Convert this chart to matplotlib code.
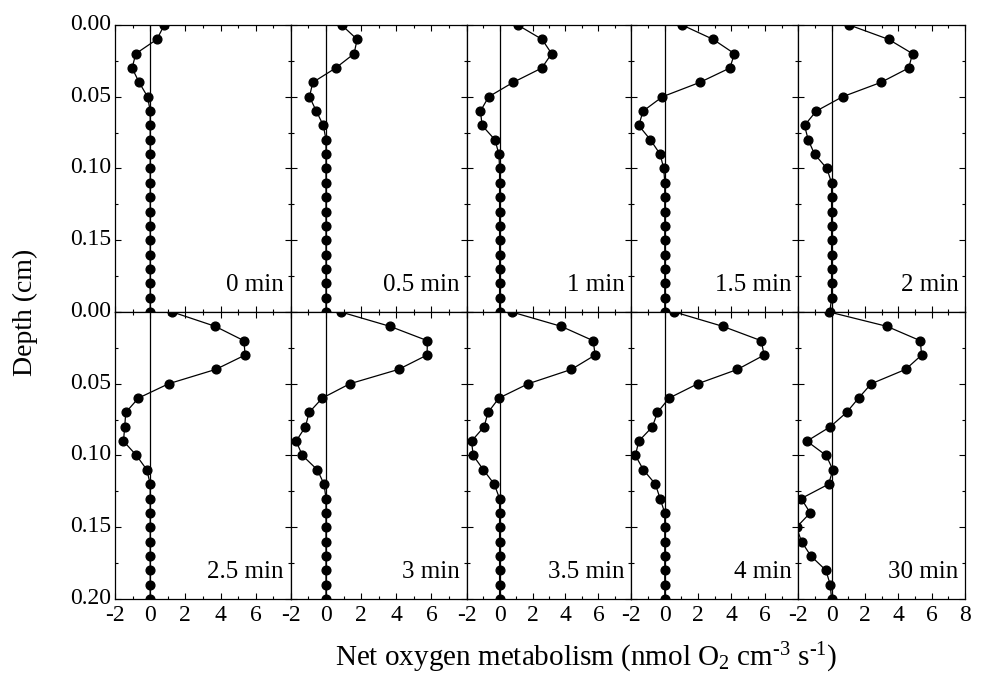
import numpy as np
import matplotlib
matplotlib.use('Agg')
import matplotlib.pyplot as plt
import matplotlib.transforms as mtransforms
from matplotlib.ticker import MultipleLocator

plt.rcParams['font.family'] = 'Liberation Serif'
plt.rcParams['mathtext.fontset'] = 'custom'
plt.rcParams['mathtext.rm'] = 'Liberation Serif'
plt.rcParams['mathtext.it'] = 'Liberation Serif:italic'
plt.rcParams['axes.unicode_minus'] = False

# Depth grid (cm)
depth = [0.00, 0.01, 0.02, 0.03, 0.04, 0.05, 0.06, 0.07, 0.08, 0.09, 0.10,
         0.11, 0.12, 0.13, 0.14, 0.15, 0.16, 0.17, 0.18, 0.19, 0.20]

# Net oxygen metabolism profiles (nmol O2 cm-3 s-1) after darkening
times = ['0 min', '0.5 min', '1 min', '1.5 min', '2 min',
         '2.5 min', '3 min', '3.5 min', '4 min', '30 min']

p_0 = [0.80, 0.38, -0.82, -1.03, -0.63, -0.15, 0, 0, 0, 0, 0,
       0, 0, 0, 0, 0, 0, 0, 0, 0, 0]
p_05 = [0.89, 1.77, 1.60, 0.55, -0.75, -0.94, -0.55, -0.15, 0, 0, 0,
        0, 0, 0, 0, 0, 0, 0, 0, 0, 0]
p_1 = [1.10, 2.58, 3.16, 2.56, 0.82, -0.66, -1.16, -1.06, -0.28, -0.04, 0,
       0, 0, 0, 0, 0, 0, 0, 0, 0, 0]
p_15 = [1.04, 2.90, 4.18, 3.90, 2.10, -0.14, -1.30, -1.56, -0.86, -0.28, -0.06,
        0, 0, 0, 0, 0, 0, 0, 0, 0, 0]
p_2 = [1.06, 3.42, 4.86, 4.62, 2.96, 0.66, -0.92, -1.62, -1.40, -1.02, -0.28,
       0, 0, 0, 0, 0, 0, 0, 0, 0, -0.10]
p_25 = [1.26, 3.70, 5.33, 5.40, 3.73, 1.05, -0.67, -1.39, -1.45, -1.52, -0.78,
        -0.19, 0, 0, 0, 0, 0, 0, 0, 0, 0]
p_3 = [0.85, 3.64, 5.77, 5.75, 4.13, 1.36, -0.21, -0.96, -1.17, -1.70, -1.34,
       -0.49, -0.11, 0, 0, 0, 0, 0, 0, 0, 0]
p_35 = [0.74, 3.74, 5.68, 5.80, 4.36, 1.74, -0.04, -0.70, -0.94, -1.70, -1.60,
        -0.98, -0.32, 0, 0, 0, 0, 0, 0, 0, 0]
p_4 = [0.58, 3.48, 5.78, 5.96, 4.36, 1.98, 0.26, -0.44, -0.74, -1.56, -1.76,
       -1.28, -0.56, -0.28, 0, 0, 0, 0, 0, 0, 0]
p_30 = [-0.14, 3.32, 5.32, 5.40, 4.44, 2.38, 1.62, 0.90, -0.08, -1.48, -0.32,
        0.08, -0.18, -1.82, -1.28, -2.10, -1.80, -1.24, -0.34, -0.08, 0]

profiles = [p_0, p_05, p_1, p_15, p_2, p_25, p_3, p_35, p_4, p_30]

fig, axes = plt.subplots(2, 5, figsize=(10.03, 6.83), dpi=100,
                         gridspec_kw={'width_ratios': [176, 176, 165, 167, 167],
                                      'wspace': 0, 'hspace': 0})
fig.subplots_adjust(left=0.1147, right=0.9621, top=0.9634, bottom=0.1230)

# nudge the depth labels up a little so they clear the bottom x labels
lift = mtransforms.ScaledTranslation(0, 3 / 100, fig.dpi_scale_trans)

for i, ax in enumerate(axes.flat):
    row, col = divmod(i, 5)
    ax.axvline(0, color='black', lw=0.9, zorder=1)
    ax.plot(profiles[i], depth, '-o', color='black', lw=0.9, ms=6.3, zorder=3)
    ax.set_xlim(-2, 8)
    ax.set_ylim(0.20, 0.00)

    ax.xaxis.set_major_locator(MultipleLocator(2))
    ax.xaxis.set_minor_locator(MultipleLocator(1))
    ax.yaxis.set_major_locator(MultipleLocator(0.05))
    ax.yaxis.set_minor_locator(MultipleLocator(0.025))
    ax.tick_params(which='both', direction='in', top=True, right=True,
                   labelsize=17, width=0.8)
    ax.tick_params(which='major', length=4)
    ax.tick_params(which='minor', length=2.5)
    ax.tick_params(axis='x', pad=4)
    ax.tick_params(axis='y', pad=3)

    # x tick labels only on the bottom row
    if row == 1:
        xl = ['-2', '0', '2', '4', '6', '8' if col == 4 else '']
        ax.set_xticks([-2, 0, 2, 4, 6, 8])
        ax.set_xticklabels(xl)
    else:
        ax.set_xticklabels([])

    # y tick labels only on the left column
    if col == 0:
        ax.set_yticks([0, 0.05, 0.10, 0.15, 0.20])
        if row == 0:
            ax.set_yticklabels(['0.00', '0.05', '0.10', '0.15', ''])
        else:
            ax.set_yticklabels(['0.00', '0.05', '0.10', '0.15', '0.20'])
        for lab in ax.get_yticklabels():
            lab.set_transform(lab.get_transform() + lift)
    else:
        ax.set_yticklabels([])

    for sp in ax.spines.values():
        sp.set_linewidth(0.9)

    ax.text(0.96, 0.095, times[i], transform=ax.transAxes,
            ha='right', va='center', fontsize=18)

fig.text(0.025, 0.543, 'Depth (cm)', rotation=90, ha='center', va='center',
         fontsize=20)
fig.text(0.584, 0.036,
         'Net oxygen metabolism (nmol O$_2$ cm$^{\u20103}$ s$^{\u20101}$)',
         ha='center', va='center', fontsize=21)

plt.savefig('out.png', dpi=100)
